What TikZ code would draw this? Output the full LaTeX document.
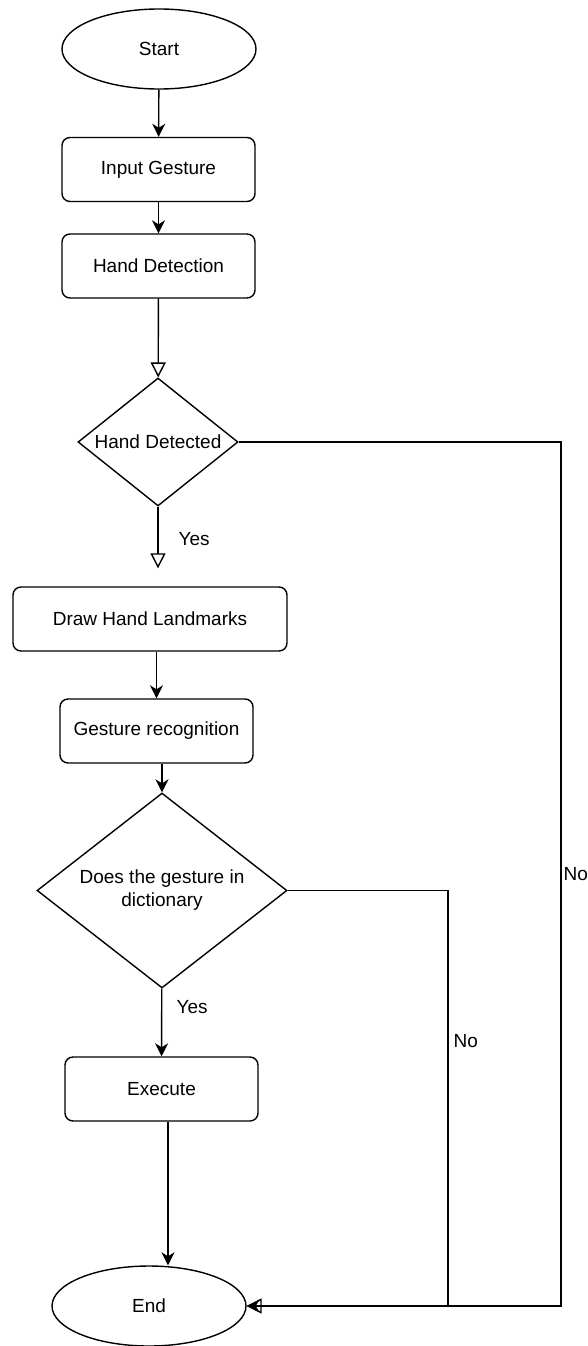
\documentclass[tikz,border=0pt]{standalone}
\usepackage{fontspec}
\setmainfont{Liberation Sans}
\usetikzlibrary{arrows.meta, positioning, shapes.geometric, calc}

\begin{document}
\begin{tikzpicture}[
      x=1pt, y=-1pt, line width=1.4pt,
      every node/.style={font=\fontsize{19}{23}\selectfont},
      term/.style={draw, ellipse, minimum width=194pt, minimum height=80pt, inner sep=0pt},
      proc/.style={draw, rounded corners=8pt, minimum height=64pt, inner sep=0pt},
      decide/.style={draw, diamond, inner sep=0pt, align=center},
      arr/.style={-{Stealth[length=13pt, width=13pt, inset=4pt]}},
      openarr/.style={-{Triangle[open, length=15pt, width=15pt]}},
      lbl/.style={anchor=west, inner sep=0pt}
    ]
      \useasboundingbox (0,0) rectangle (588,1346);

      % main column
      \node[term] (start) at (159,49) {Start};
      \node[proc, minimum width=193pt] (input) at (158.5,169.5) {Input Gesture};
      \node[proc, minimum width=193pt] (handdet) at (158.5,266) {Hand Detection};
      \node[decide, shape aspect=1.25, minimum width=160pt, minimum height=128pt] (isHand) at (158,442) {Hand Detected};
      \node[proc, minimum width=274pt] (landmarks) at (150,619) {Draw Hand Landmarks};
      \node[proc, minimum width=193pt] (recog) at (156.5,731) {Gesture recognition};
      \node[decide, shape aspect=1.28, minimum width=250pt, minimum height=195pt] (inDict) at (162,890.5) {Does the gesture in\\dictionary};
      \node[proc, minimum width=193pt] (exec) at (161.5,1089) {Execute};
      \node[term] (stop) at (149,1306) {End};

      \coordinate (midRail) at (448,0);
      \coordinate (rightRail) at (561,0);

      % connectors
      \draw[arr] (start) -- (input);
      \draw[arr] (input) -- (handdet);
      \draw[openarr] (handdet) -- (isHand);
      \draw[openarr, shorten >=18pt] (isHand) -- (isHand |- landmarks.north);
      \draw[arr] (landmarks.south -| recog.north) -- (recog.north);
      \draw[arr] (recog.south -| inDict.north) -- (inDict.north);
      \draw[arr] (inDict) -- (exec);
      \draw[arr] ([xshift=6.5pt]exec.south) -- ([xshift=6.5pt]exec.south |- stop.north);
      \draw[openarr] (isHand.east) -- (isHand.east -| rightRail) |- (stop.east);
      \draw[arr] (inDict.east) -- (inDict.east -| midRail) |- (stop.east);

      % branch labels
      \node[lbl] (yesHand) at (178,539) {Yes};
      \node[lbl] (yesDict) at (176,1007) {Yes};
      \node[lbl] (noDict) at (453,1041) {No};
      \node[lbl] (noHand) at (563,874) {No};
    \end{tikzpicture}
\end{document}
